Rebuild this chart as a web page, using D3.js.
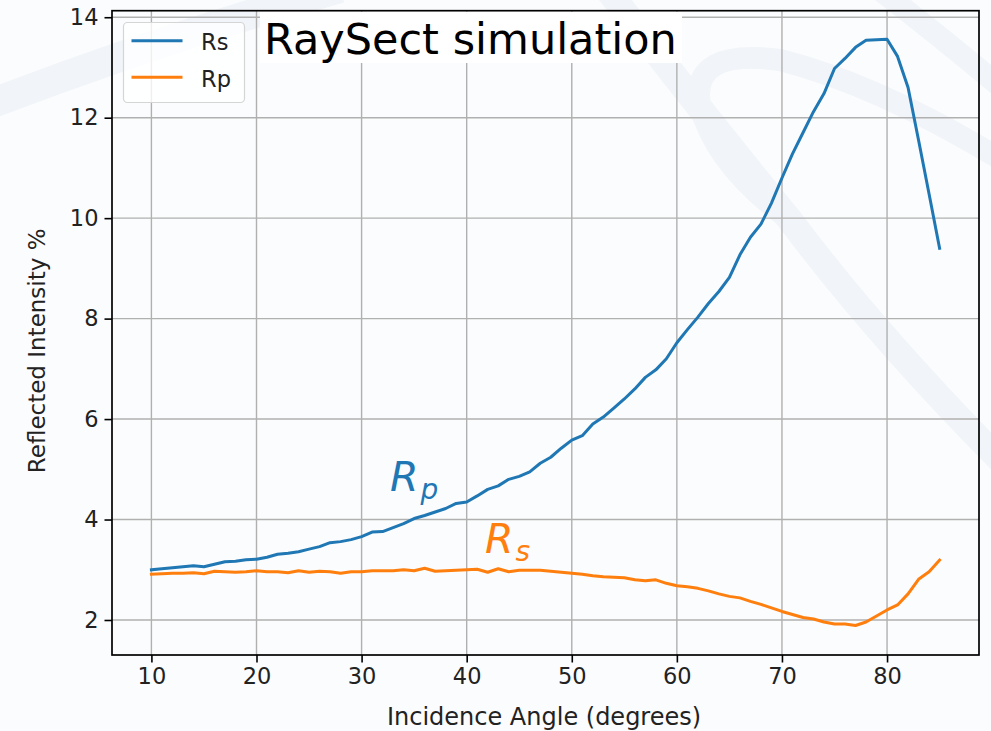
<!DOCTYPE html>
<html>
<head>
<meta charset="utf-8">
<script src="https://cdn.jsdelivr.net/npm/d3@7/dist/d3.min.js"></script>
<style>
  html, body { margin: 0; padding: 0; background: #fbfcfd; }
  svg { display: block; }
  text { font-family: "DejaVu Sans", sans-serif; }
</style>
</head>
<body>
<svg id="chart" width="991" height="731"></svg>
<script>
// ---- Data ----
const angles = [10,11,12,13,14,15,16,17,18,19,20,21,22,23,24,25,26,27,28,29,30,31,32,33,34,35,36,37,38,39,40,41,42,43,44,45,46,47,48,49,50,51,52,53,54,55,56,57,58,59,60,61,62,63,64,65,66,67,68,69,70,71,72,73,74,75,76,77,78,79,80,81,82,83,84,85];
const rsValues = [3.00,3.02,3.04,3.06,3.08,3.06,3.11,3.16,3.17,3.20,3.21,3.25,3.31,3.33,3.36,3.41,3.46,3.54,3.56,3.60,3.66,3.75,3.76,3.84,3.92,4.02,4.08,4.15,4.22,4.32,4.35,4.47,4.60,4.67,4.80,4.86,4.95,5.12,5.24,5.42,5.58,5.67,5.90,6.04,6.22,6.40,6.60,6.83,6.98,7.20,7.52,7.78,8.03,8.30,8.54,8.82,9.27,9.62,9.88,10.30,10.80,11.28,11.70,12.12,12.48,12.98,13.18,13.40,13.54,13.55,13.56,13.22,12.60,11.55,10.48,9.40];
const rpValues = [2.91,2.92,2.93,2.93,2.94,2.92,2.97,2.96,2.95,2.96,2.98,2.96,2.96,2.94,2.98,2.95,2.97,2.96,2.93,2.96,2.96,2.98,2.98,2.98,3.00,2.98,3.03,2.97,2.98,2.99,3.00,3.01,2.95,3.02,2.96,2.99,2.99,2.99,2.97,2.95,2.93,2.91,2.88,2.86,2.85,2.84,2.80,2.78,2.80,2.73,2.68,2.66,2.63,2.58,2.52,2.47,2.44,2.37,2.31,2.24,2.17,2.11,2.05,2.02,1.96,1.92,1.92,1.89,1.96,2.08,2.20,2.30,2.52,2.81,2.96,3.19];
const seriesNames = ["Rs", "Rp"];
const seriesColors = ["#1f77b4", "#ff7f0e"];
const xTicks = [10,20,30,40,50,60,70,80];
const yTicks = [2,4,6,8,10,12,14];
const xDomain = [6.25, 88.75];
const yDomain = [1.303, 14.13];
const titleText = "RaySect simulation";
const xLabel = "Incidence Angle (degrees)";
const yLabel = "Reflected Intensity %";

// ---- Layout ----
const W = 991, H = 731;
const L = 112, R = 979, T = 10.7, B = 655;

const svg = d3.select("#chart");

// faint watermark background
const wm = svg.append("g").attr("fill", "none").attr("stroke", "#f1f4f8").attr("stroke-linecap", "butt");
wm.append("path").attr("d", "M -20 108 Q 150 42 340 -12").attr("stroke-width", 30);
wm.append("path").attr("d", "M 600 -20 Q 700 110 790 220 Q 880 340 1010 470").attr("stroke-width", 26);
wm.append("path").attr("d", "M 1010 165 Q 880 85 780 60 Q 690 48 700 105 Q 715 165 790 220").attr("stroke-width", 22);
wm.append("path").attr("d", "M 880 -10 Q 945 40 1010 95").attr("stroke-width", 22);

const x = d3.scaleLinear().domain(xDomain).range([L, R]);
const y = d3.scaleLinear().domain(yDomain).range([B, T]);

// grid
const grid = svg.append("g").attr("stroke", "#b0b0b0").attr("stroke-width", 1.4);
grid.selectAll("line.vx").data(xTicks).join("line")
  .attr("x1", d => x(d)).attr("x2", d => x(d)).attr("y1", T).attr("y2", B);
grid.selectAll("line.hy").data(yTicks).join("line")
  .attr("y1", d => y(d)).attr("y2", d => y(d)).attr("x1", L).attr("x2", R);

// lines
const line = d3.line().x((d, i) => x(angles[i])).y(d => y(d));
[rsValues, rpValues].forEach((vals, k) => {
  svg.append("path").datum(vals)
    .attr("d", line)
    .attr("fill", "none")
    .attr("stroke", seriesColors[k])
    .attr("stroke-width", 3)
    .attr("stroke-linejoin", "round")
    .attr("stroke-linecap", "square");
});

// title box
const tg = svg.append("g");
tg.append("rect").attr("x", 260).attr("y", T + 1).attr("width", 422).attr("height", 63 - T - 1).attr("fill", "#ffffff");
tg.append("text").attr("x", 264).attr("y", 53.5).attr("font-size", 43).attr("fill", "#000").text(titleText);

// axes
const xAxis = d3.axisBottom(x).tickValues(xTicks).tickSize(7.5).tickPadding(6).tickFormat(d3.format("d"));
const yAxis = d3.axisLeft(y).tickValues(yTicks).tickSize(7.5).tickPadding(6).tickFormat(d3.format("d"));
const gx = svg.append("g").attr("transform", `translate(0,${B})`).call(xAxis);
const gy = svg.append("g").attr("transform", `translate(${L},0)`).call(yAxis);
[gx, gy].forEach(g => {
  g.select(".domain").remove();
  g.selectAll(".tick line").attr("stroke", "#000").attr("stroke-width", 1.6);
  g.selectAll(".tick text").attr("font-size", 22.5).attr("fill", "#222").attr("font-family", "DejaVu Sans");
});

// spines
svg.append("rect").attr("x", L).attr("y", T).attr("width", R - L).attr("height", B - T)
  .attr("fill", "none").attr("stroke", "#000").attr("stroke-width", 1.7);

// axis labels
svg.append("text").attr("x", 544).attr("y", 725).attr("text-anchor", "middle")
  .attr("font-size", 24).attr("fill", "#222").text(xLabel);
svg.append("text").attr("transform", `translate(45,${(T + B) / 2 + 18}) rotate(-90)`).attr("text-anchor", "middle")
  .attr("font-size", 23).attr("fill", "#222").text(yLabel);

// legend
const lg = svg.append("g");
lg.append("rect").attr("x", 123.5).attr("y", 22.5).attr("width", 121).attr("height", 80).attr("rx", 4)
  .attr("fill", "#ffffff").attr("fill-opacity", 0.8).attr("stroke", "#d5d5d5").attr("stroke-width", 1.2);
seriesNames.forEach((name, i) => {
  const yy = 40.7 + i * 36.6;
  lg.append("line").attr("x1", 131.5).attr("x2", 182.5).attr("y1", yy).attr("y2", yy)
    .attr("stroke", seriesColors[i]).attr("stroke-width", 3);
  lg.append("text").attr("x", 201).attr("y", yy + 9.5).attr("font-size", 22.5).attr("fill", "#222").text(name);
});

// math annotations
function mathLabel(px, py, main, sub, color) {
  const t = svg.append("text").attr("x", px).attr("y", py).attr("fill", color)
    .attr("font-style", "italic").attr("font-size", 41);
  t.append("tspan").text(main);
  t.append("tspan").attr("font-size", 28).attr("dy", 7.5).attr("dx", 2).text(sub);
}
mathLabel(390, 491, "R", "p", seriesColors[0]);
mathLabel(485, 553, "R", "s", seriesColors[1]);
</script>
</body>
</html>
